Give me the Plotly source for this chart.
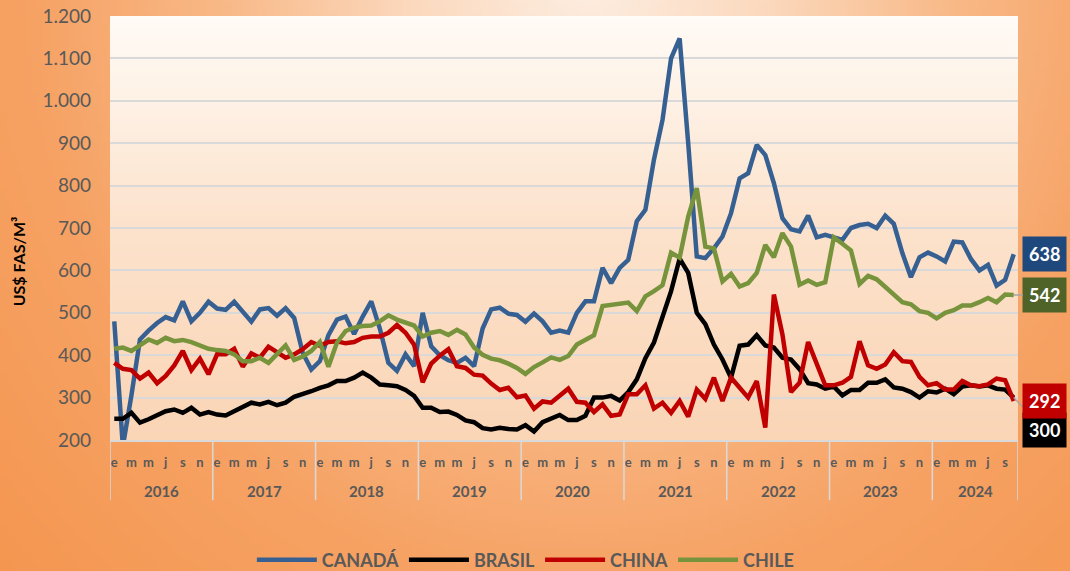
import base64
import struct
import zlib
import plotly.graph_objects as go

# ---------------- data ----------------
years = ["2016", "2017", "2018", "2019", "2020", "2021", "2022", "2023", "2024"]
month_initials = ["e", "f", "m", "a", "m", "j", "j", "a", "s", "o", "n", "d"]
labelled_months = [0, 2, 4, 6, 8, 10]   # e m m j s n

canada = [480, 185, 305, 437, 458, 476, 490, 482, 527, 480, 500, 526,
          510, 507, 526, 502, 479, 508, 511, 493, 511, 488, 405, 366,
          386, 447, 484, 491, 450, 491, 527, 463, 382, 363, 402, 374,
          500, 421, 400, 388, 382, 394, 374, 463, 508, 512, 498, 495,
          479, 498, 480, 453, 458, 453, 500, 527, 527, 606, 570, 606,
          625, 716, 743, 861, 955, 1100, 1147, 900, 633, 629, 652, 680,
          735, 817, 829, 896, 872, 806, 723, 697, 692, 729, 678, 684,
          678, 672, 700, 707, 710, 700, 729, 710, 641, 584, 631, 642,
          633, 621, 668, 666, 627, 600, 613, 564, 578, 638]

brasil = [250, 250, 264, 241, 249, 258, 268, 272, 264, 276, 260, 266,
          260, 258, 268, 280, 288, 284, 290, 282, 288, 302, 308, 315,
          323, 329, 339, 339, 347, 359, 347, 331, 329, 327, 318, 304,
          276, 276, 266, 267, 259, 246, 242, 228, 225, 229, 226, 225,
          235, 220, 242, 250, 259, 247, 247, 257, 300, 300, 304, 293,
          313, 343, 393, 430, 490, 551, 628, 594, 500, 473, 425, 390,
          347, 422, 425, 447, 423, 418, 394, 390, 367, 334, 331, 321,
          326, 305, 318, 318, 335, 335, 343, 324, 321, 313, 300, 315,
          312, 321, 308, 326, 329, 326, 329, 321, 319, 300]

china = [382, 368, 365, 345, 359, 334, 351, 376, 410, 365, 392, 355,
         402, 402, 415, 373, 404, 394, 420, 407, 394, 402, 414, 431,
         422, 431, 433, 428, 431, 441, 444, 444, 453, 471, 453, 425,
         336, 380, 399, 414, 374, 370, 354, 352, 333, 318, 323, 301,
         305, 274, 291, 288, 304, 321, 290, 288, 266, 284, 257, 260,
         308, 308, 329, 274, 288, 264, 292, 255, 319, 297, 347, 292,
         347, 323, 300, 339, 229, 543, 449, 313, 335, 431, 378, 329,
         329, 335, 349, 433, 376, 368, 378, 407, 386, 384, 349, 329,
         334, 319, 319, 339, 329, 327, 331, 345, 341, 292]

chile = [415, 418, 410, 422, 437, 429, 441, 433, 436, 431, 422, 415,
         412, 410, 402, 386, 386, 394, 382, 402, 423, 389, 397, 410,
         431, 373, 430, 457, 465, 469, 470, 480, 494, 484, 476, 470,
         444, 453, 457, 448, 460, 449, 418, 401, 392, 388, 380, 370,
         356, 372, 383, 395, 389, 398, 425, 437, 447, 516, 518, 521,
         524, 504, 539, 551, 565, 642, 630, 727, 794, 656, 652, 574,
         592, 562, 570, 594, 660, 631, 688, 656, 566, 576, 566, 572,
         678, 663, 647, 568, 587, 579, 562, 543, 525, 520, 504, 500,
         487, 500, 506, 517, 517, 525, 535, 525, 543, 542]

series_names = ["CANADÁ", "BRASIL", "CHINA", "CHILE"]
series_values = [canada, brasil, china, chile]
y_title = "US$ FAS/M³"

# ---------------- styles ----------------
line_colors = ["#376092", "#000000", "#C00000", "#77933C"]
label_colors = ["#1F497D", "#000000", "#C00000", "#4F6228"]
FONT = "Lato"
GREY_TXT = "#595959"

n = len(canada)
x_idx = list(range(n))

W, H = 1070, 571
L, R, T, B = 110, 52, 16, 131
pw, ph = W - L - R, H - T - B


def png_uri(w, h, fn):
    raw = bytearray()
    for j in range(h):
        raw.append(0)
        for i in range(w):
            raw.extend(fn(i / (w - 1), j / (h - 1)))

    def chunk(tag, data):
        return (struct.pack(">I", len(data)) + tag + data +
                struct.pack(">I", zlib.crc32(tag + data) & 0xFFFFFFFF))

    png = (b"\x89PNG\r\n\x1a\n" +
           chunk(b"IHDR", struct.pack(">IIBBBBB", w, h, 8, 2, 0, 0, 0)) +
           chunk(b"IDAT", zlib.compress(bytes(raw), 9)) +
           chunk(b"IEND", b""))
    return "data:image/png;base64," + base64.b64encode(png).decode()


def ramp(stops, t):
    t = max(stops[0][0], min(stops[-1][0], t))
    for k in range(len(stops) - 1):
        t0, c0 = stops[k]
        t1, c1 = stops[k + 1]
        if t <= t1:
            f = (t - t0) / (t1 - t0) if t1 > t0 else 0
            return bytes(int(round(c0[q] + (c1[q] - c0[q]) * f)) for q in range(3))
    return bytes(stops[-1][1])


outer_stops = [(0.0, (253, 238, 226)), (0.3, (251, 216, 188)),
               (0.6, (248, 184, 134)), (0.9, (246, 162, 100)), (1.3, (244, 150, 80))]


def outer_fn(u, v):
    d = (((u - 0.55) / 0.58) ** 2 + ((v + 0.05) / 1.2) ** 2) ** 0.5
    return ramp(outer_stops, d)


inner_stops = [(0.0, (255, 251, 246)), (0.5, (252, 226, 204)), (1.0, (250, 213, 182))]


def inner_fn(u, v):
    return ramp(inner_stops, v)


outer_img = png_uri(214, 114, outer_fn)
inner_img = png_uri(60, 80, inner_fn)

fig = go.Figure()
for name, vals, col in zip(series_names, series_values, line_colors):
    fig.add_trace(go.Scatter(
        x=x_idx, y=vals, name=name, mode="lines",
        line=dict(color=col, width=4.5),
        hoverinfo="skip",
    ))

# tick positions for month initials
tickvals = [12 * yi + m for yi in range(len(years)) for m in labelled_months if 12 * yi + m < n]
ticktext = [month_initials[v % 12] for v in tickvals]

annotations = []
shapes = []
# year labels and dividers
for yi, yr in enumerate(years):
    start = 12 * yi
    end = min(12 * yi + 11, n - 1)
    annotations.append(dict(
        x=(start + end) / 2, y=-0.12, xref="x", yref="paper",
        text=yr, showarrow=False, yanchor="middle",
        font=dict(family=FONT, size=15, color=GREY_TXT, weight="bold")))
bounds = [12 * yi - 0.5 for yi in range(len(years))] + [n - 0.5]
for bx in bounds:
    shapes.append(dict(type="line", xref="x", yref="paper", x0=bx, x1=bx,
                       y0=0, y1=-0.142, line=dict(color="#D9D9D9", width=1.5)))

# y-axis title (centred on the axis incl. category band, as in the reference)
annotations.append(dict(
    x=-0.101, y=0.422, xref="paper", yref="paper", text=y_title, textangle=-90,
    showarrow=False, xanchor="center", yanchor="middle",
    font=dict(family=FONT, size=16, color="black", weight="bold")))

# last-value labels
for name, vals, bg in zip(series_names, series_values, label_colors):
    arrow = name in ("BRASIL", "CHILE")
    annotations.append(dict(
        x=x_idx[-1], y=vals[-1], xref="x", yref="y",
        text=f"{vals[-1]}", showarrow=arrow,
        ax=31, ay=32 if name == "BRASIL" else 0,
        arrowhead=0, arrowwidth=1.5, arrowcolor="#A6A6A6",
        xshift=0 if arrow else 31,
        bgcolor=bg, borderpad=6,
        font=dict(family=FONT, size=18, color="white", weight="bold")))

fig.update_layout(
    width=W, height=H,
    margin=dict(l=L, r=R, t=T, b=B, autoexpand=False),
    paper_bgcolor="#F8C59A",
    plot_bgcolor="rgba(0,0,0,0)",
    separators=",.",
    showlegend=True,
    legend=dict(orientation="h", x=0.458, xanchor="center", y=-0.283, yanchor="middle",
                font=dict(family=FONT, size=18, color=GREY_TXT, weight="bold"),
                bgcolor="rgba(0,0,0,0)", itemwidth=60, tracegroupgap=0),
    images=[
        dict(source=outer_img, xref="paper", yref="paper",
             x=-L / pw, y=1 + T / ph, sizex=W / pw, sizey=H / ph,
             sizing="stretch", xanchor="left", yanchor="top", layer="below"),
        dict(source=inner_img, xref="paper", yref="paper",
             x=0, y=1, sizex=1, sizey=1,
             sizing="stretch", xanchor="left", yanchor="top", layer="below"),
    ],
    annotations=annotations,
    shapes=shapes,
    xaxis=dict(range=[-0.5, n - 0.5], tickmode="array", tickvals=tickvals, ticktext=ticktext,
               tickangle=0, showgrid=False, zeroline=False, showline=True,
               linecolor="#D9D9D9", linewidth=1.5, ticks="", ticklabelstandoff=10,
               tickfont=dict(family=FONT, size=13, color=GREY_TXT, weight="bold"),
               automargin=False, fixedrange=True),
    yaxis=dict(range=[200, 1200], dtick=100, tickformat=",d", showgrid=True,
               gridcolor="#D9D9D9", gridwidth=1.5, zeroline=False, ticks="",
               ticklabelstandoff=18,
               tickfont=dict(family=FONT, size=19, color=GREY_TXT),
               automargin=False, fixedrange=True),
)

fig.write_html("out.html", config={"displayModeBar": False},
               post_script="document.body.style.margin='0';document.body.style.overflow='hidden';")
